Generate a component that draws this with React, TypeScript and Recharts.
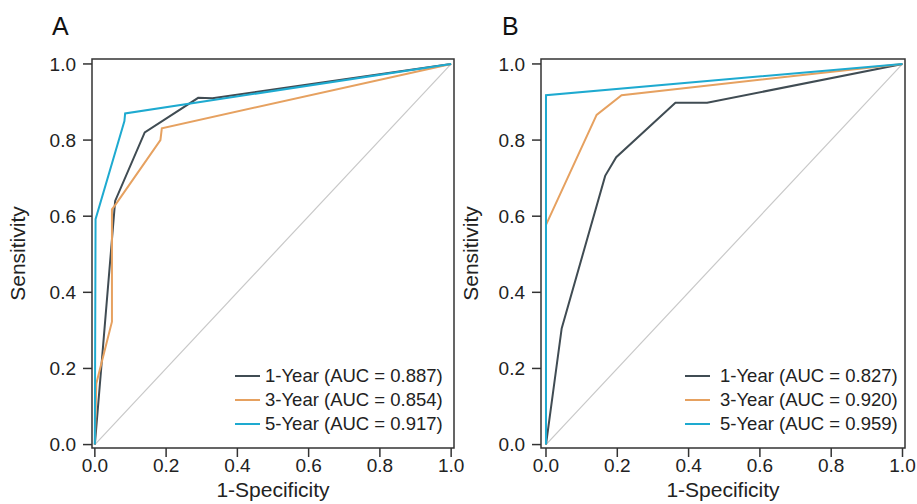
import React from "react";
import { LineChart, Line, XAxis, YAxis, ReferenceArea, Legend } from "recharts";

// axis ticks shared by both panels
const ticks = [0, 0.2, 0.4, 0.6, 0.8, 1];

const seriesNames = ["1-Year", "3-Year", "5-Year"];
const seriesColors = ["#404c53", "#e6a160", "#1eaad0"];

const aucA = ["0.887", "0.854", "0.917"];
const aucB = ["0.827", "0.920", "0.959"];

// Panel A - ROC points (1-specificity, sensitivity)
const a1Fpr = [0, 0.057, 0.14, 0.29, 0.33, 1];
const a1Tpr = [0, 0.64, 0.82, 0.911, 0.91, 1];
const a3Fpr = [0, 0.004, 0.048, 0.048, 0.057, 0.184, 0.188, 1];
const a3Tpr = [0, 0.16, 0.323, 0.618, 0.629, 0.8, 0.831, 1];
const a5Fpr = [0, 0.002, 0.083, 0.085, 1];
const a5Tpr = [0, 0.592, 0.85, 0.87, 1];

// Panel B
const b1Fpr = [0, 0.044, 0.166, 0.197, 0.363, 0.452, 1];
const b1Tpr = [0, 0.305, 0.706, 0.755, 0.898, 0.898, 1];
const b3Fpr = [0, 0, 0.142, 0.212, 1];
const b3Tpr = [0, 0.577, 0.866, 0.918, 1];
const b5Fpr = [0, 0, 1];
const b5Tpr = [0, 0.918, 1];

const diagFpr = [0, 1];
const diagTpr = [0, 1];

const pts = (xs: number[], ys: number[]) => xs.map((x, i) => ({ x, y: ys[i] }));

const yDomain: [number, number] = [-0.009, 1.013];

type PanelProps = {
  title: string;
  left: number;
  width: number;
  marginLeft: number;
  marginRight: number;
  xDomain: [number, number];
  curves: { x: number; y: number }[][];
  aucs: string[];
  legendLeft: number;
  legendGap: number;
  yLabelOffset: number;
  titleLeft: number;
};

function RocPanel(p: PanelProps) {
  const renderLegend = () => (
    <div style={{ fontSize: 18.5, color: "#222", lineHeight: "24px" }}>
      {seriesNames.map((n, i) => (
        <div key={n} style={{ display: "flex", alignItems: "center", whiteSpace: "nowrap" }}>
          <span
            style={{
              display: "inline-block",
              width: 25,
              height: 2,
              background: seriesColors[i],
              marginRight: p.legendGap,
            }}
          />
          <span>{`${n} (AUC = ${p.aucs[i]})`}</span>
        </div>
      ))}
    </div>
  );

  return (
    <div style={{ position: "absolute", left: p.left, top: 0 }}>
      <div
        style={{
          position: "absolute",
          left: p.titleLeft - p.left,
          top: 14,
          fontSize: 25,
          lineHeight: "25px",
          color: "#111",
        }}
      >
        {p.title}
      </div>
      <LineChart
        width={p.width}
        height={504}
        margin={{ top: 59, right: p.marginRight, bottom: 0, left: p.marginLeft }}
      >
        <XAxis
          type="number"
          dataKey="x"
          domain={p.xDomain}
          ticks={ticks}
          allowDataOverflow
          tickFormatter={(v: number) => v.toFixed(1)}
          height={56}
          axisLine={false}
          tickSize={9}
          tickMargin={2}
          tickLine={{ stroke: "#333", strokeWidth: 1.5 }}
          tick={{ fill: "#222", fontSize: 19 }}
          label={{
            value: "1-Specificity",
            position: "insideBottom",
            offset: 7,
            fontSize: 21,
            fill: "#222",
          }}
        />
        <YAxis
          type="number"
          dataKey="y"
          domain={yDomain}
          ticks={ticks}
          allowDataOverflow
          tickFormatter={(v: number) => v.toFixed(1)}
          width={60}
          axisLine={false}
          tickSize={9}
          tickMargin={7}
          tickLine={{ stroke: "#333", strokeWidth: 1.5 }}
          tick={{ fill: "#222", fontSize: 19 }}
          label={{
            value: "Sensitivity",
            angle: -90,
            position: "insideLeft",
            offset: p.yLabelOffset,
            fontSize: 21,
            fill: "#222",
            style: { textAnchor: "middle" },
          }}
        />
        {/* chance diagonal */}
        <Line
          data={pts(diagFpr, diagTpr)}
          dataKey="y"
          type="linear"
          stroke="#c8c8c8"
          strokeWidth={1.2}
          dot={false}
          legendType="none"
          isAnimationActive={false}
        />
        {p.curves.map((c, i) => (
          <Line
            key={seriesNames[i]}
            name={seriesNames[i]}
            data={c}
            dataKey="y"
            type="linear"
            stroke={seriesColors[i]}
            strokeWidth={2}
            dot={false}
            isAnimationActive={false}
          />
        ))}
        <ReferenceArea
          x1={p.xDomain[0]}
          x2={p.xDomain[1]}
          y1={yDomain[0]}
          y2={yDomain[1]}
          fill="none"
          stroke="#333"
          strokeWidth={1.5}
          ifOverflow="visible"
        />
        <Legend
          layout="vertical"
          align="center"
          verticalAlign="middle"
          content={renderLegend}
          wrapperStyle={{ left: p.legendLeft, top: 364, width: "auto", height: "auto" }}
        />
      </LineChart>
    </div>
  );
}

export default function App() {
  return (
    <div
      style={{
        position: "absolute",
        left: 0,
        top: 0,
        width: 917,
        height: 504,
        background: "#fff",
        fontFamily: "'Liberation Sans', Arial, sans-serif",
      }}
    >
      <RocPanel
        title="A"
        left={0}
        width={470}
        marginLeft={32}
        marginRight={16}
        xDomain={[-0.008, 1.008]}
        curves={[pts(a1Fpr, a1Tpr), pts(a3Fpr, a3Tpr), pts(a5Fpr, a5Tpr)]}
        aucs={aucA}
        legendLeft={235}
        legendGap={5}
        yLabelOffset={-14}
        titleLeft={52}
      />
      <RocPanel
        title="B"
        left={450}
        width={467}
        marginLeft={31}
        marginRight={12}
        xDomain={[-0.014, 1.007]}
        curves={[pts(b1Fpr, b1Tpr), pts(b3Fpr, b3Tpr), pts(b5Fpr, b5Tpr)]}
        aucs={aucB}
        legendLeft={235}
        legendGap={10}
        yLabelOffset={-10}
        titleLeft={502}
      />
    </div>
  );
}
